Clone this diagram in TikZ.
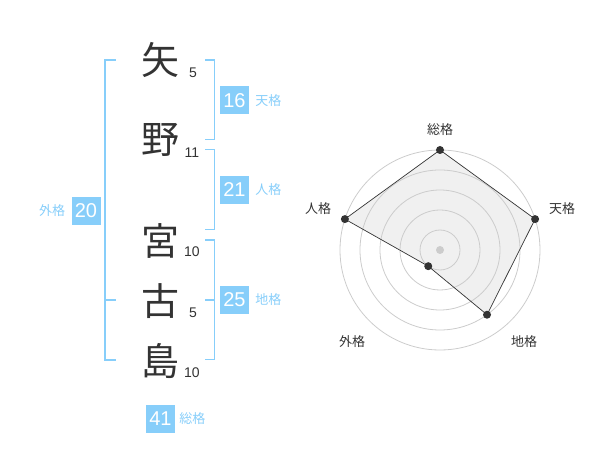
\documentclass[tikz,border=0pt]{standalone}
\usepackage{fontspec}
\usetikzlibrary{positioning}
\setmainfont{Liberation Sans}
\newfontfamily\jp{Noto Sans CJK JP}
\definecolor{sky}{HTML}{87CEFA}
\definecolor{ink}{HTML}{333333}
\definecolor{ring}{HTML}{CCCCCC}
\definecolor{area}{HTML}{F0F0F0}
\begin{document}
\begin{tikzpicture}[x=1pt,y=-1pt]
	\tikzstyle{every node}=[inner sep=0pt]
	\tikzstyle{kanji}=[font=\jp\fontsize{38}{38}\selectfont, text=ink]
	\tikzstyle{strokes}=[font=\fontsize{14}{14}\selectfont, text=ink]
	\tikzstyle{score}=[fill=sky, text=white, minimum width=29pt, minimum height=28pt, font=\fontsize{20}{20}\selectfont]
	\tikzstyle{kaku}=[text=sky, font=\jp\fontsize{13}{13}\selectfont]
	\tikzstyle{brace}=[draw=sky, line width=1.5pt]
	\tikzstyle{axis}=[text=ink, font=\jp\fontsize{13}{13}\selectfont]
	\useasboundingbox (0,0) rectangle (600,470);
	
	% name characters and strokes
	\node[kanji] (ya) at (160,60) {矢};
	\node[kanji] (no) at (160,140) {野};
	\node[kanji] (miya) at (160,241) {宮};
	\node[kanji] (ko) at (160,301) {古};
	\node[kanji] (shima) at (160,361) {島};
	\node[strokes] (nya) at (193,73) {5};
	\node[strokes] (nno) at (192,153) {11};
	\node[strokes] (nmiya) at (192,252) {10};
	\node[strokes] (nko) at (193,313) {5};
	\node[strokes] (nshima) at (192,373) {10};
	
	% brackets
	\draw[brace] (115.5,60) -| (105,360) -- (115.5,360);
	\draw[brace] (105,300) -- (115.5,300);
	\draw[brace] (205,60) -| (214.5,139.5) -- (205,139.5);
	\draw[brace] (205,149.5) -| (214.5,229.5) -- (205,229.5);
	\draw[brace] (205,240) -| (214.5,359.5) -- (205,359.5);
	\draw[brace] (205,300) -- (214.5,300);
	
	% scores
	\node[score] (ten) at (234.5,100.5) {16};
	\node[kaku, right=6pt of ten] (tenl) {天格};
	\node[score] (jin) at (234.5,190) {21};
	\node[kaku, right=6pt of jin] (jinl) {人格};
	\node[score] (chi) at (234.5,300) {25};
	\node[kaku, right=6pt of chi] (chil) {地格};
	\node[score] (gai) at (86,211) {20};
	\node[kaku, left=6pt of gai] (gail) {外格};
	\node[score] (so) at (160.5,419) {41};
	\node[kaku, right=4pt of so] (sol) {総格};
	
	% radar
	\begin{scope}[shift={(440,250)},y=1pt]
	\coordinate (c) at (0,0);
	\coordinate (pso) at (90:100);
	\coordinate (pten) at (18:100);
	\coordinate (pchi) at (-54:80);
	\coordinate (pgai) at (-126:20);
	\coordinate (pjin) at (162:100);
	\fill[area] (pso) -- (pten) -- (pchi) -- (pgai) -- (pjin) -- cycle;
	\foreach \r in {20,40,60,80,100}
		\draw[ring, line width=0.8pt] (c) circle (\r pt);
	\fill[ring] (c) circle (4pt);
	\draw[ink, line width=0.7pt] (pso) -- (pten) -- (pchi) -- (pgai) -- (pjin) -- cycle;
	\foreach \p in {pso,pten,pchi,pgai,pjin}
		\fill[ink] (\p) circle (4pt);
	\node[axis] (lso) at (0,120) {総格};
	\node[axis] (lten) at (122,41) {天格};
	\node[axis] (ljin) at (-122,41) {人格};
	\node[axis] (lgai) at (-88,-92) {外格};
	\node[axis] (lchi) at (84,-92) {地格};
	\end{scope}
\end{tikzpicture}
\end{document}
